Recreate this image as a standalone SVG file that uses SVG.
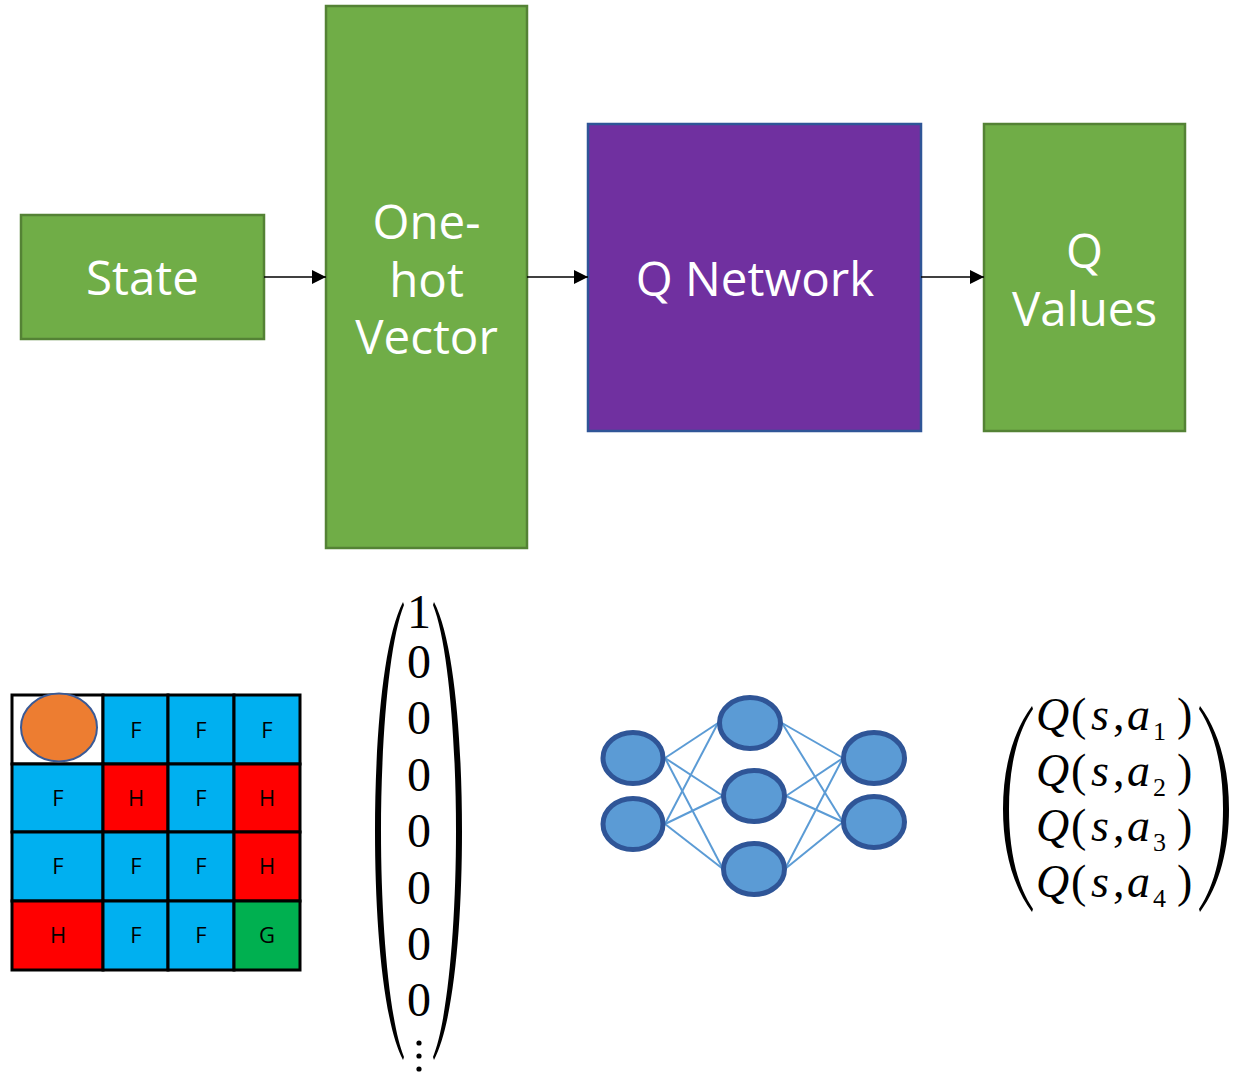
<svg xmlns="http://www.w3.org/2000/svg" width="1242" height="1072" viewBox="0 0 1242 1072">
  <style>
    .gbox { fill: #70AD47; stroke: #548235; stroke-width: 2.5; }
    .pbox { fill: #7030A0; stroke: #2F5597; stroke-width: 2.5; }
    .lbl { font-family: "Open Sans", "Noto Sans", sans-serif; font-size: 47.5px; fill: #FFFFFF; text-anchor: middle; }
    .edge { stroke: #000000; stroke-width: 1.5; fill: none; }
    .cell { stroke: #000000; stroke-width: 3; }
    .cl { font-family: "Open Sans", "Liberation Sans", sans-serif; font-size: 22px; fill: #000000; text-anchor: middle; }
    .num { font-family: "Liberation Serif", "DejaVu Serif", serif; font-size: 48px; fill: #000000; text-anchor: middle; }
    .neuron { fill: #5B9BD5; stroke: #2F5597; stroke-width: 5; }
    .syn { stroke: #5B9BD5; stroke-width: 2; }
    .qv { font-family: "Liberation Serif", "DejaVu Serif", serif; font-size: 46px; fill: #000000; }
    .it { font-style: italic; }
    .sub { font-size: 26px; }
  </style>
  <defs>
    <marker id="arrow" markerUnits="userSpaceOnUse" markerWidth="15" markerHeight="14" refX="14" refY="7" orient="auto">
      <path d="M0,0 L14,7 L0,14 Z" fill="#000000"/>
    </marker>
  </defs>
  <rect width="1242" height="1072" fill="#FFFFFF"/>

  <!-- pipeline blocks -->
  <g id="state">
    <rect class="gbox" x="21" y="215" width="243" height="124"/>
    <text class="lbl" x="142.5" y="295">State</text>
  </g>
  <g id="one-hot-vector">
    <rect class="gbox" x="326" y="6" width="201" height="542"/>
    <text class="lbl" x="426.5" y="239">One-<tspan x="426.5" dy="58">hot</tspan><tspan x="426.5" dy="57">Vector</tspan></text>
  </g>
  <g id="q-network">
    <rect class="pbox" x="588" y="124" width="333" height="307"/>
    <text class="lbl" x="755" y="296">Q Network</text>
  </g>
  <g id="q-values">
    <rect class="gbox" x="984" y="124" width="201" height="307"/>
    <text class="lbl" x="1084.5" y="268">Q<tspan x="1084.5" dy="58">Values</tspan></text>
  </g>

  <g id="connectors">
    <line class="edge" x1="264" y1="277" x2="326" y2="277" marker-end="url(#arrow)"/>
    <line class="edge" x1="527" y1="277" x2="588" y2="277" marker-end="url(#arrow)"/>
    <line class="edge" x1="921" y1="277" x2="984" y2="277" marker-end="url(#arrow)"/>
  </g>

  <!-- frozen-lake grid -->
  <g id="grid-world">
    <rect x="12" y="695" width="91" height="69" fill="#FFFFFF" class="cell"/>
    <rect x="103" y="695" width="65" height="69" fill="#00B0F0" class="cell"/>
    <rect x="168" y="695" width="66" height="69" fill="#00B0F0" class="cell"/>
    <rect x="234" y="695" width="66" height="69" fill="#00B0F0" class="cell"/>

    <rect x="12" y="764" width="91" height="68" fill="#00B0F0" class="cell"/>
    <rect x="103" y="764" width="65" height="68" fill="#FF0000" class="cell"/>
    <rect x="168" y="764" width="66" height="68" fill="#00B0F0" class="cell"/>
    <rect x="234" y="764" width="66" height="68" fill="#FF0000" class="cell"/>

    <rect x="12" y="832" width="91" height="69" fill="#00B0F0" class="cell"/>
    <rect x="103" y="832" width="65" height="69" fill="#00B0F0" class="cell"/>
    <rect x="168" y="832" width="66" height="69" fill="#00B0F0" class="cell"/>
    <rect x="234" y="832" width="66" height="69" fill="#FF0000" class="cell"/>

    <rect x="12" y="901" width="91" height="69" fill="#FF0000" class="cell"/>
    <rect x="103" y="901" width="65" height="69" fill="#00B0F0" class="cell"/>
    <rect x="168" y="901" width="66" height="69" fill="#00B0F0" class="cell"/>
    <rect x="234" y="901" width="66" height="69" fill="#00B050" class="cell"/>

    <ellipse cx="59" cy="727.5" rx="38" ry="34" fill="#ED7D31" stroke="#3A5A96" stroke-width="2"/>

    <text class="cl" x="136" y="738">F</text>
    <text class="cl" x="201" y="738">F</text>
    <text class="cl" x="267" y="738">F</text>
    <text class="cl" x="58" y="806">F</text>
    <text class="cl" x="136" y="806">H</text>
    <text class="cl" x="201" y="806">F</text>
    <text class="cl" x="267" y="806">H</text>
    <text class="cl" x="58" y="874">F</text>
    <text class="cl" x="136" y="874">F</text>
    <text class="cl" x="201" y="874">F</text>
    <text class="cl" x="267" y="874">H</text>
    <text class="cl" x="58" y="943">H</text>
    <text class="cl" x="136" y="943">F</text>
    <text class="cl" x="201" y="943">F</text>
    <text class="cl" x="267" y="943">G</text>
  </g>

  <!-- one-hot column vector -->
  <g id="one-hot-column">
    <path d="M403,602 C383,640 375,740 375,831 C375,922 383,1022 403,1060 L404,1057 C389,1020 381,922 381,831 C381,740 389,642 404,605 Z" fill="#000000"/>
    <path d="M434,602 C454,640 462,740 462,831 C462,922 454,1022 434,1060 L433,1057 C448,1020 456,922 456,831 C456,740 448,642 433,605 Z" fill="#000000"/>
    <text class="num" x="419" y="628">1</text>
    <text class="num" x="419" y="678">0</text>
    <text class="num" x="419" y="734">0</text>
    <text class="num" x="419" y="791">0</text>
    <text class="num" x="419" y="847">0</text>
    <text class="num" x="419" y="904">0</text>
    <text class="num" x="419" y="960">0</text>
    <text class="num" x="419" y="1016">0</text>
    <circle cx="419" cy="1043" r="2.6" fill="#000000"/>
    <circle cx="419" cy="1056" r="2.6" fill="#000000"/>
    <circle cx="419" cy="1069" r="2.6" fill="#000000"/>
  </g>

  <!-- small neural network icon -->
  <g id="network-icon">
    <g class="syn">
      <line x1="665" y1="758" x2="718" y2="723"/>
      <line x1="665" y1="758" x2="723" y2="796"/>
      <line x1="665" y1="758" x2="723" y2="869"/>
      <line x1="665" y1="824" x2="718" y2="723"/>
      <line x1="665" y1="824" x2="723" y2="796"/>
      <line x1="665" y1="824" x2="723" y2="869"/>
      <line x1="782" y1="723" x2="843" y2="758"/>
      <line x1="782" y1="723" x2="843" y2="822"/>
      <line x1="786" y1="796" x2="843" y2="758"/>
      <line x1="786" y1="796" x2="843" y2="822"/>
      <line x1="785" y1="869" x2="843" y2="758"/>
      <line x1="785" y1="869" x2="843" y2="822"/>
    </g>
    <ellipse class="neuron" cx="633" cy="758" rx="30" ry="25.5"/>
    <ellipse class="neuron" cx="633" cy="824" rx="30" ry="25.5"/>
    <ellipse class="neuron" cx="750" cy="723" rx="30.5" ry="25.5"/>
    <ellipse class="neuron" cx="754" cy="796" rx="30.5" ry="25.5"/>
    <ellipse class="neuron" cx="754" cy="869" rx="30.5" ry="25.5"/>
    <ellipse class="neuron" cx="874" cy="758" rx="30.5" ry="25.5"/>
    <ellipse class="neuron" cx="874" cy="822" rx="30.5" ry="25.5"/>
  </g>

  <!-- Q value column vector -->
  <g id="q-value-column">
    <path d="M1032,706 C1012,733 1003,770 1003,809 C1003,848 1012,885 1032,912 L1033,909 C1016,884 1009,848 1009,809 C1009,770 1016,734 1033,709 Z" fill="#000000"/>
    <path d="M1200,706 C1220,733 1229,770 1229,809 C1229,848 1220,885 1200,912 L1199,909 C1216,884 1223,848 1223,809 C1223,770 1216,734 1199,709 Z" fill="#000000"/>
    <text class="qv" y="730"><tspan class="it" x="1036">Q</tspan><tspan x="1071">(</tspan><tspan class="it" x="1091">s</tspan><tspan x="1113">,</tspan><tspan class="it" x="1127">a</tspan><tspan class="sub" x="1153" y="740">1</tspan><tspan x="1177" y="730">)</tspan></text>
    <text class="qv" y="786"><tspan class="it" x="1036">Q</tspan><tspan x="1071">(</tspan><tspan class="it" x="1091">s</tspan><tspan x="1113">,</tspan><tspan class="it" x="1127">a</tspan><tspan class="sub" x="1153" y="796">2</tspan><tspan x="1177" y="786">)</tspan></text>
    <text class="qv" y="841"><tspan class="it" x="1036">Q</tspan><tspan x="1071">(</tspan><tspan class="it" x="1091">s</tspan><tspan x="1113">,</tspan><tspan class="it" x="1127">a</tspan><tspan class="sub" x="1153" y="851">3</tspan><tspan x="1177" y="841">)</tspan></text>
    <text class="qv" y="897"><tspan class="it" x="1036">Q</tspan><tspan x="1071">(</tspan><tspan class="it" x="1091">s</tspan><tspan x="1113">,</tspan><tspan class="it" x="1127">a</tspan><tspan class="sub" x="1153" y="907">4</tspan><tspan x="1177" y="897">)</tspan></text>
  </g>
</svg>
